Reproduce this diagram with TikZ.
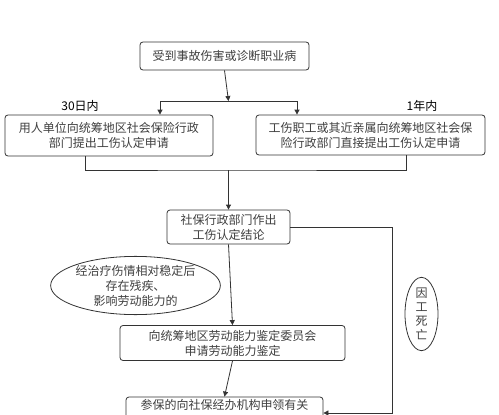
\documentclass[tikz,border=0pt]{standalone}
\usepackage{fontspec}
\newfontfamily\cjk{Noto Sans CJK SC}
\usetikzlibrary{shapes.geometric, arrows.meta, positioning, calc}

\tikzset{
  box/.style={draw=black!80, rounded corners=3pt, align=center, text=black!75, inner sep=0pt},
  oval/.style={draw=black!80, ellipse, align=center, text=black!75, inner sep=0pt},
  arr/.style={-{Triangle[length=5pt,width=5pt]}, draw=black!80},
  line/.style={draw=black!80}
}

\begin{document}
\begin{tikzpicture}[x=1pt, y=-1pt, line width=0.8pt, font=\cjk\fontsize{12}{15}\selectfont]
\useasboundingbox[fill=white] (0,0) rectangle (499,415);
% boxes
\node[box, minimum width=169pt, minimum height=28pt] (hurt) at (224.5,56) {受到事故伤害或诊断职业病};
\node[box, minimum width=208pt, minimum height=41pt] (unit) at (109,135.5) {用人单位向统筹地区社会保险行政\\部门提出工伤认定申请};
\node[box, minimum width=229pt, minimum height=40pt] (self) at (370.5,135) {工伤职工或其近亲属向统筹地区社会保\\险行政部门直接提出工伤认定申请};
\node[box, minimum width=123pt, minimum height=34pt] (concl) at (228.5,227) {社保行政部门作出\\工伤认定结论};
\node[box, minimum width=225pt, minimum height=35pt] (assess) at (232.5,343) {向统筹地区劳动能力鉴定委员会\\申请劳动能力鉴定};
\node[box, minimum width=197pt, minimum height=32pt, text depth=18pt] (claim) at (224.5,413) {参保的向社保经办机构申领有关};
% ovals
\node[oval, minimum width=157pt, minimum height=53pt] (stable) at (135.5,285.5) {经治疗伤情相对稳定后\\存在残疾、\\影响劳动能力的};
\node[oval, minimum width=33pt, minimum height=68pt, font=\cjk\fontsize{12}{14}\selectfont] (death) at (421.5,314) {因\\工\\死\\亡};
% labels
\node (d30) at (80,106) {30日内};
\node (y1) at (422,106) {1年内};
% connectors
\coordinate (split) at (228.5,101);
\coordinate (merge) at (228.5,170);
\coordinate (turn) at (392,413);
\draw[arr] (hurt.south) -- (split);
\draw[arr] (split) -| ([xshift=51pt]unit.north);
\draw[arr] (split) -| ([xshift=-73.5pt]self.north);
\draw[line] ([xshift=-24pt]unit.south) |- (merge) -| ([xshift=35.5pt]self.south);
\draw[arr] (merge) -- (concl.north);
\draw[arr] (concl.south) -- (assess.north);
\draw[arr] (assess.south) -- (claim.north);
\draw[arr] (concl.east) -| (turn) -- (claim.east);
\end{tikzpicture}
\end{document}
